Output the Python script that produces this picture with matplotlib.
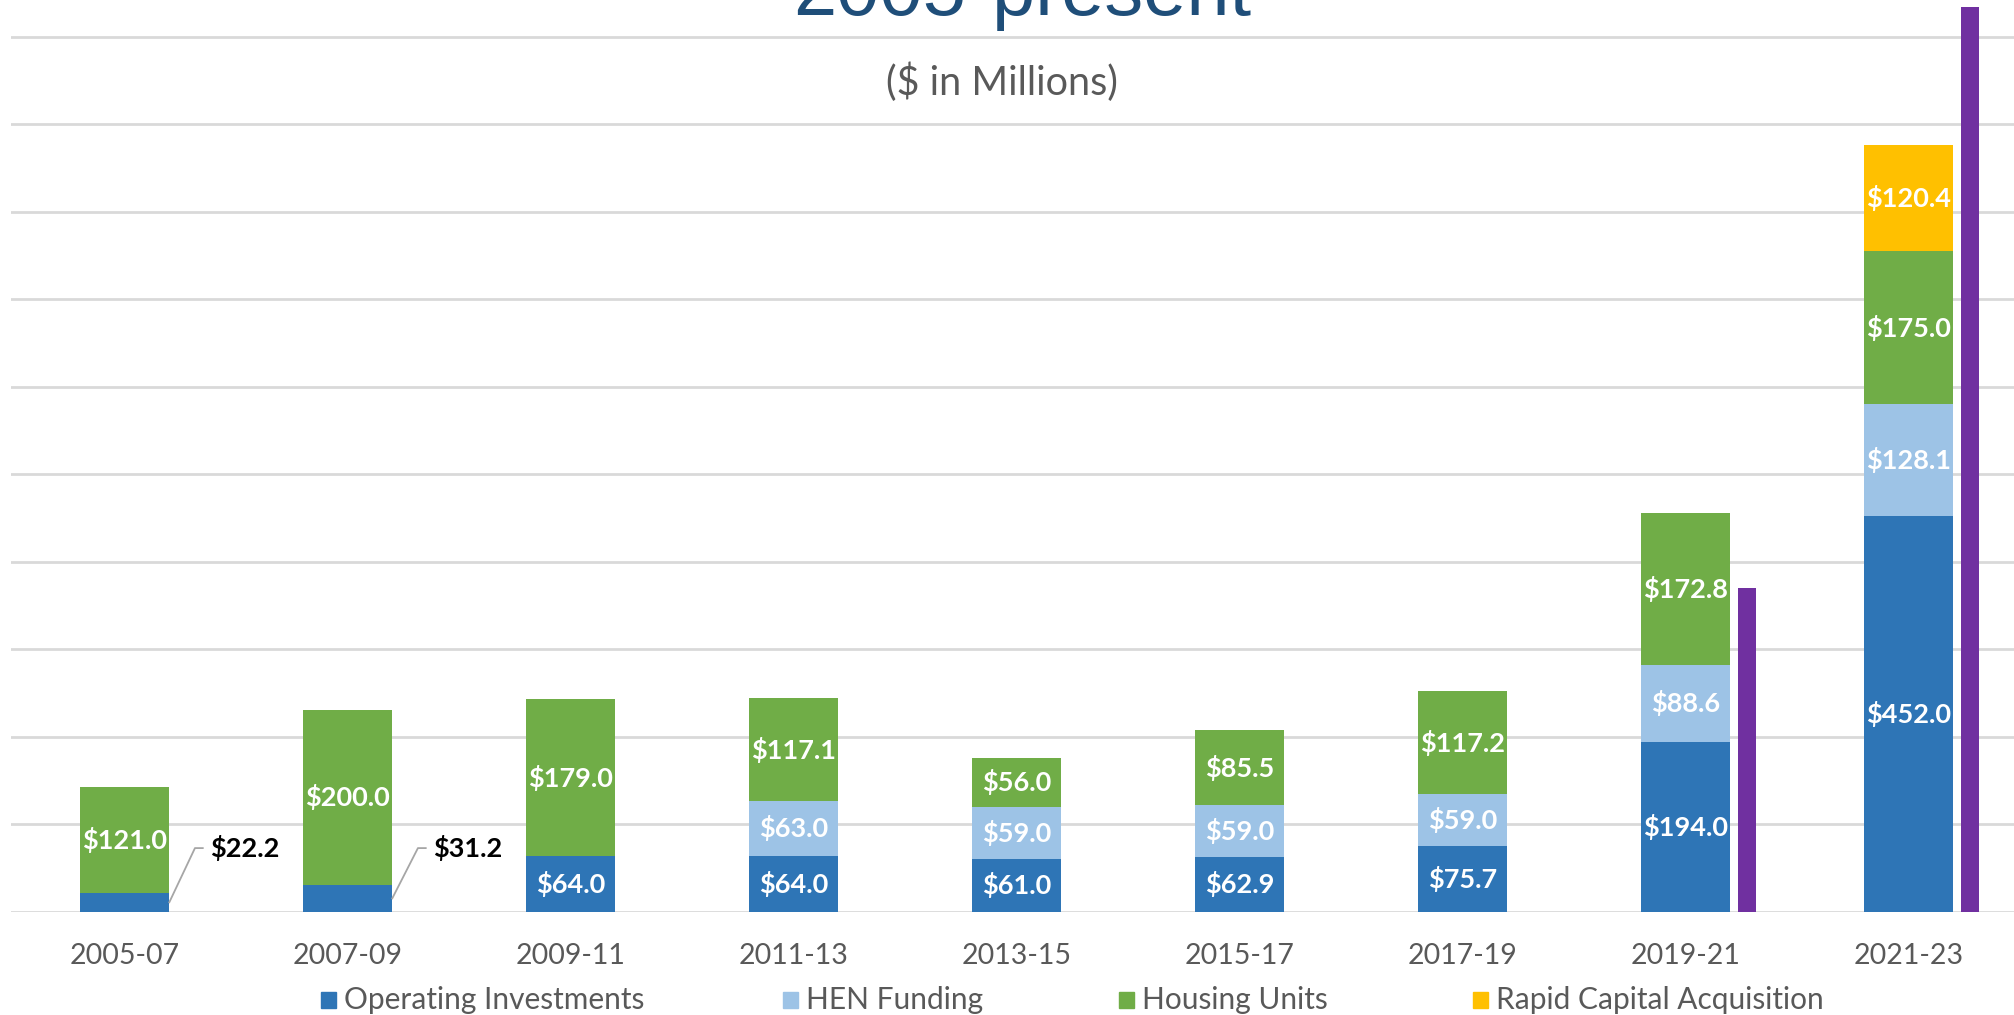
import numpy as np
import matplotlib
matplotlib.use("Agg")
import matplotlib.pyplot as plt
from matplotlib.patches import Rectangle

periods = ["2005-07", "2007-09", "2009-11", "2011-13", "2013-15",
           "2015-17", "2017-19", "2019-21", "2021-23"]
operating = [22.2, 31.2, 64.0, 64.0, 61.0, 62.9, 75.7, 194.0, 452.0]
hen = [0, 0, 0, 63.0, 59.0, 59.0, 59.0, 88.6, 128.1]
housing = [121.0, 200.0, 179.0, 117.1, 56.0, 85.5, 117.2, 172.8, 175.0]
rapid = [0, 0, 0, 0, 0, 0, 0, 0, 120.4]
# unlabelled purple series (only last two biennia)
purple = [0, 0, 0, 0, 0, 0, 0, 370.0, 1034.0]

series_names = ["Operating Investments", "HEN Funding", "Housing Units",
                "Rapid Capital Acquisition"]
colors = ["#2E75B6", "#9DC3E6", "#70AD47", "#FFC000"]
purple_color = "#7030A0"

W, H = 2015, 1015
fig = plt.figure(figsize=(W / 100, H / 100), dpi=100)

# axes placed in pixels: baseline at y=912, 87.55 px per 100
base_px = 912
ymax = 1045
top_px = base_px - ymax * 0.8755
ax = fig.add_axes([11 / W, (H - base_px) / H, 2009 / W, (base_px - top_px) / H])
ax.set_xlim(-0.51, 8.5)
ax.set_ylim(0, ymax)

x = np.arange(len(periods))
bw = 0.4
stack = [operating, hen, housing, rapid]
bottom = np.zeros(len(periods))
for vals, col in zip(stack, colors):
    vals = np.array(vals, dtype=float)
    ax.bar(x, vals, bw, bottom=bottom, color=col, zorder=3)
    for i, v in enumerate(vals):
        if v >= 40:
            ax.text(x[i], bottom[i] + v / 2, "$%.1f" % v, ha="center", va="center",
                    color="white", fontsize=19.5, fontweight="bold", family="Lato",
                    zorder=4)
    bottom += vals

pv = np.array(purple)
mask = pv > 0
ax.bar(x[mask] + 0.275, pv[mask], 0.08, color=purple_color, zorder=3)

# small operating values labelled outside with leader lines
for i, v in enumerate(operating):
    if v < 40:
        x0 = x[i] + bw / 2
        ax.plot([x0, x0 + 0.115, x0 + 0.15], [v / 2, 73, 73], color="#A6A6A6",
                lw=1.3, zorder=4)
        ax.text(x0 + 0.185, 73, "$%.1f" % v, ha="left", va="center", color="black",
                fontsize=19.5, fontweight="bold", family="Lato", zorder=4)

ax.set_yticks(np.arange(0, 1001, 100))
ax.yaxis.grid(True, color="#D9D9D9", lw=2, zorder=0)
ax.set_axisbelow(True)
ax.tick_params(axis="y", left=False, labelleft=False)
ax.set_xticks(x)
ax.set_xticklabels(periods, family="Lato", fontsize=20.5, color="#595959")
ax.tick_params(axis="x", length=0, pad=22)
for s in ax.spines.values():
    s.set_visible(False)

fig.text(1022 / W, 1 - 15 / H, "2005-present", ha="center", va="baseline",
         fontsize=56, color="#1F4E79", family="Liberation Sans")
fig.text(1002 / W, 1 - 82 / H, "($ in Millions)", ha="center", va="center",
         fontsize=28.5, color="#595959", family="Lato")

# legend along the bottom edge
leg_x = [321, 783, 1119, 1473]
leg_y = 1000
for lx, name, col in zip(leg_x, series_names, colors):
    fig.patches.append(Rectangle((lx / W, (H - leg_y - 8) / H), 15 / W, 16 / H,
                                 transform=fig.transFigure, color=col))
    fig.text((lx + 23) / W, (H - leg_y) / H, name, ha="left", va="center",
             fontsize=21.5, color="#595959", family="Lato")

fig.savefig("out.png", dpi=100)
